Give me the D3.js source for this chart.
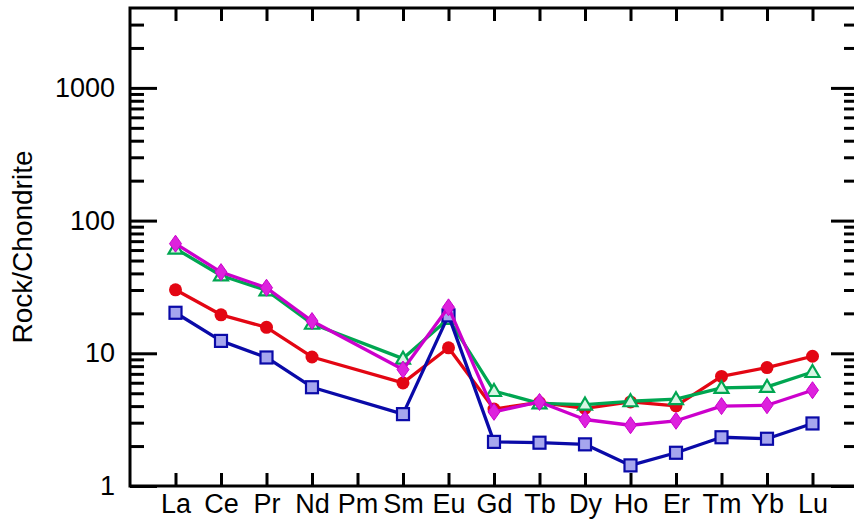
<!DOCTYPE html>
<html>
<head>
<meta charset="utf-8">
<script src="https://cdn.jsdelivr.net/npm/d3@7"></script>
<style>
  html, body { margin: 0; padding: 0; background: #fff; }
  svg { display: block; font-family: "Liberation Sans", Arial, Helvetica, sans-serif; }
</style>
</head>
<body>
<svg id="chart" width="854" height="519"></svg>
<script>
const elements = ["La","Ce","Pr","Nd","Pm","Sm","Eu","Gd","Tb","Dy","Ho","Er","Tm","Yb","Lu"];
const seriesRed     = [30.1, 19.5, 15.7, 9.38, null, 5.98, 11.0, 3.8, 4.26, 3.84, 4.3, 4.02, 6.7, 7.8, 9.5];
const seriesGreen   = [61.5, 38.6, 29.8, 16.7, null, 9.12, 18.2, 5.2, 4.19, 4.11, 4.35, 4.51, 5.48, 5.58, 7.23];
const seriesBlue    = [20.2, 12.4, 9.3, 5.55, null, 3.48, 19.3, 2.15, 2.12, 2.06, 1.43, 1.78, 2.33, 2.27, 2.96];
const seriesMagenta = [67, 40.9, 31.2, 17.5, null, 7.54, 22.2, 3.62, 4.3, 3.17, 2.87, 3.1, 4.0, 4.06, 5.27];
const yMajorTicks = [1, 10, 100, 1000];
const yTickLabels = ["1", "10", "100", "1000"];
const yMinorTicks = [2,3,4,5,6,7,8,9,20,30,40,50,60,70,80,90,200,300,400,500,600,700,800,900,2000,3000];
const yAxisTitle = "Rock/Chondrite";

const svg = d3.select("#chart");
const mLeft = 130, mRight = 858, mTop = 8, mBottom = 486;

const x = d3.scalePoint().domain(elements).range([mLeft, mRight]).padding(1);
const y = d3.scaleLog().domain([1, 4000]).range([mBottom, mTop]);

const axisColor = "#000";

// left axis: majors with labels
const gL = svg.append("g").attr("transform", `translate(${mLeft},0)`);
gL.call(d3.axisLeft(y).tickValues(yMajorTicks).tickSize(-27).tickPadding(15)
  .tickFormat((d, i) => yTickLabels[i]));
gL.append("g").call(d3.axisLeft(y).tickValues(yMinorTicks).tickSize(-14).tickFormat(""));

// right axis
const gR = svg.append("g").attr("transform", `translate(${mRight},0)`);
gR.call(d3.axisRight(y).tickValues(yMajorTicks).tickSize(-27).tickFormat(""));
gR.append("g").call(d3.axisRight(y).tickValues(yMinorTicks).tickSize(-14).tickFormat(""));

// bottom axis
const gB = svg.append("g").attr("transform", `translate(0,${mBottom})`);
gB.call(d3.axisBottom(x).tickSize(-13).tickPadding(8));

// top axis
const gT = svg.append("g").attr("transform", `translate(0,${mTop})`);
gT.call(d3.axisTop(x).tickSize(-13).tickFormat(""));

svg.selectAll(".domain").remove();
svg.selectAll(".tick line").attr("stroke", axisColor).attr("stroke-width", 3);
svg.selectAll(".tick text").attr("fill", "#000").style("font-size", "27px")
  .style("font-family", '"Liberation Sans", Arial, sans-serif');

// frame
svg.append("rect").attr("x", mLeft).attr("y", mTop)
  .attr("width", mRight - mLeft).attr("height", mBottom - mTop)
  .attr("fill", "none").attr("stroke", axisColor).attr("stroke-width", 3);

// axis title
svg.append("text")
  .attr("transform", `translate(32,${(mTop + mBottom) / 2}) rotate(-90)`)
  .attr("text-anchor", "middle")
  .style("font-size", "28px")
  .text(yAxisTitle);

const line = d3.line().x(d => x(d.el)).y(d => y(d.v));

function toPts(arr) {
  return arr.map((v, i) => ({el: elements[i], v})).filter(d => d.v != null);
}

const series = [
  {data: seriesRed, color: "#e30613", marker: "circle", fill: "#e30613"},
  {data: seriesGreen, color: "#00a651", marker: "triangle", fill: "#d8f5e4"},
  {data: seriesBlue, color: "#0a0aa8", marker: "square", fill: "#a6a6ee"},
  {data: seriesMagenta, color: "#cc00cc", marker: "diamond", fill: "#dd22dd"}
];

series.forEach(s => {
  const pts = toPts(s.data);
  svg.append("path").datum(pts).attr("d", line)
    .attr("fill", "none").attr("stroke", s.color).attr("stroke-width", 3.3)
    .attr("stroke-linejoin", "round");
  const g = svg.append("g");
  pts.forEach(p => {
    const cx = x(p.el), cy = y(p.v);
    if (s.marker === "circle") {
      g.append("circle").attr("cx", cx).attr("cy", cy).attr("r", 6.5).attr("fill", s.fill);
    } else if (s.marker === "square") {
      g.append("rect").attr("x", cx - 6).attr("y", cy - 6).attr("width", 12).attr("height", 12)
        .attr("fill", s.fill).attr("stroke", s.color).attr("stroke-width", 2.2);
    } else if (s.marker === "triangle") {
      g.append("path").attr("d", `M${cx},${cy - 7} L${cx + 7},${cy + 5} L${cx - 7},${cy + 5} Z`)
        .attr("fill", s.fill).attr("stroke", s.color).attr("stroke-width", 2.2);
    } else if (s.marker === "diamond") {
      g.append("path").attr("d", `M${cx},${cy - 8.5} L${cx + 6},${cy} L${cx},${cy + 8.5} L${cx - 6},${cy} Z`)
        .attr("fill", s.fill).attr("stroke", s.color).attr("stroke-width", 1);
    }
  });
});
</script>
</body>
</html>
